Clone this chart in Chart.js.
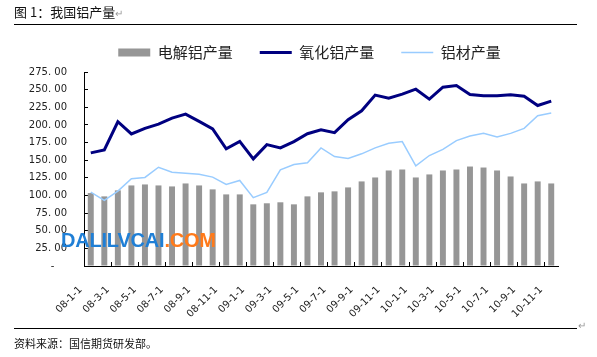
<!DOCTYPE html>
<html><head><meta charset="utf-8">
<script src="https://cdn.jsdelivr.net/npm/chart.js@4/dist/chart.umd.min.js"></script>
<style>
html,body{margin:0;padding:0;background:#fff;}
body{width:597px;height:357px;position:relative;overflow:hidden;font-family:"Noto Sans CJK SC",sans-serif;}
#c{position:absolute;left:0;top:0;}
.t{position:absolute;white-space:nowrap;color:#111;}
.hr{position:absolute;left:14px;width:563px;height:1px;background:#000;}
.pm{color:#999;font-size:10px;}
#wm{position:absolute;left:61px;top:229px;font:bold 20px "Liberation Sans",Arial,sans-serif;color:#1f7fd6;letter-spacing:-0.2px;}
#wm span{color:#ff7a1a;}
</style></head>
<body>
<canvas id="c" width="597" height="357"></canvas>
<div class="t" style="left:14px;top:2px;font-size:13px;">图 1：我国铝产量<span class="pm">↵</span></div>
<div class="hr" style="top:24px;"></div>
<div class="hr" style="top:328px;"></div>
<div class="t pm" style="left:578px;top:317px;">↵</div>
<div class="t" style="left:14px;top:335px;font-size:11px;">资料来源：国信期货研发部。</div>
<div id="wm">DALILVCAI<span>.COM</span></div>
<script>
const categories = ["08-1-1","08-2-1","08-3-1","08-4-1","08-5-1","08-6-1","08-7-1","08-8-1","08-9-1","08-10-1","08-11-1","08-12-1",
"09-1-1","09-2-1","09-3-1","09-4-1","09-5-1","09-6-1","09-7-1","09-8-1","09-9-1","09-10-1","09-11-1","09-12-1",
"10-1-1","10-2-1","10-3-1","10-4-1","10-5-1","10-6-1","10-7-1","10-8-1","10-9-1","10-10-1","10-11-1"];
const seriesNames = ["电解铝产量","氧化铝产量","铝材产量"];
const electrolyticAl = [103.4,98.7,107.2,114.2,115.6,114.2,112.8,117,114.2,108.6,101.5,101.5,87.4,88.9,90.3,87.4,98.7,104.4,105.8,111.4,119.9,125.5,135.4,136.8,125.5,129.8,135.4,136.8,141,139.6,135.4,126.9,117,119.9,117];
const alumina = [160.4,164.6,204.5,187.2,195.1,201.2,209.7,215.3,205,194.2,166,176.7,151.9,172,167.4,176.3,187.5,193,189,207.3,220,242.2,237.9,243.6,250.6,236.5,253.4,255.7,243,241.2,241.2,242.6,240.7,227.5,233.7];
const alProducts = [104.8,93,106.2,123.7,125.5,140,133,131.6,130.2,126,115.7,121.3,96.9,104.4,136.4,143.9,146.2,167.4,155.1,152.3,159,167.4,173.9,176.3,142,156.6,165.4,177.7,184.3,188,182.9,188,195.1,213,216.8];
const yMin = 0, yMax = 275, yStep = 25;

const legendMargin = {
  id:'legendMargin',
  beforeInit(chart){
    const fit = chart.legend.fit;
    chart.legend.fit = function(){ fit.bind(chart.legend)(); this.height += 2; };
  }
};

new Chart(document.getElementById('c'), {
  data: {
    labels: categories,
    datasets: [
      {type:'bar', label:seriesNames[0], data:electrolyticAl, backgroundColor:'#969696', borderWidth:0,
       categoryPercentage:1, barPercentage:0.44, order:3, pointStyle:'rect'},
      {type:'line', label:seriesNames[1], data:alumina, borderColor:'#000080', backgroundColor:'#000080',
       borderWidth:3, pointRadius:0, tension:0, order:1, pointStyle:'line'},
      {type:'line', label:seriesNames[2], data:alProducts, borderColor:'#99ccff', backgroundColor:'#99ccff',
       borderWidth:1.5, pointRadius:0, tension:0, order:2, pointStyle:'line'}
    ]
  },
  plugins:[legendMargin],
  options: {
    responsive:false, animation:false, devicePixelRatio:1,
    layout:{padding:{left:26,right:4,top:18,bottom:0}},
    plugins:{
      tooltip:{enabled:false},
      legend:{display:true, position:'top',
        labels:{usePointStyle:true, pointStyleWidth:32, boxHeight:8, padding:27,
          color:'#222', font:{family:'"Noto Sans CJK SC"', size:15},
          sort:(a,b)=>a.datasetIndex-b.datasetIndex}}
    },
    scales:{
      x:{
        offset:true,
        border:{color:'#000', width:1},
        grid:{display:true, drawOnChartArea:false, drawTicks:true, tickLength:-4, offset:true,
          color:(ctx)=> (ctx.index>0 && ctx.index%2===0) ? '#000' : 'rgba(0,0,0,0)'},
        ticks:{autoSkip:false, minRotation:45, maxRotation:45, padding:22, labelOffset:-10,
          color:'#222', font:{family:'"DejaVu Sans"', size:10},
          callback:function(v,i){ return i%2===0 ? categories[i] : ''; }},
        afterFit:(s)=>{ s.height = 357 - 266; }
      },
      y:{
        min:yMin, max:yMax,
        border:{color:'#000', width:1},
        grid:{display:true, drawOnChartArea:false, drawTicks:true, tickLength:-4, color:'#000'},
        ticks:{stepSize:yStep, padding:21, color:'#222', font:{family:'"DejaVu Sans"', size:10},
          callback:(v)=> v===0 ? '-    ' : v.toFixed(2).replace('.', '. ')},
        afterFit:(s)=>{ s.width = 58; }
      },
      yPad:{
        type:'linear', position:'right', display:true,
        grid:{display:false}, border:{display:false}, ticks:{display:false},
        afterFit:(s)=>{ s.width = 35; }
      }
    }
  }
});
</script>
</body></html>
